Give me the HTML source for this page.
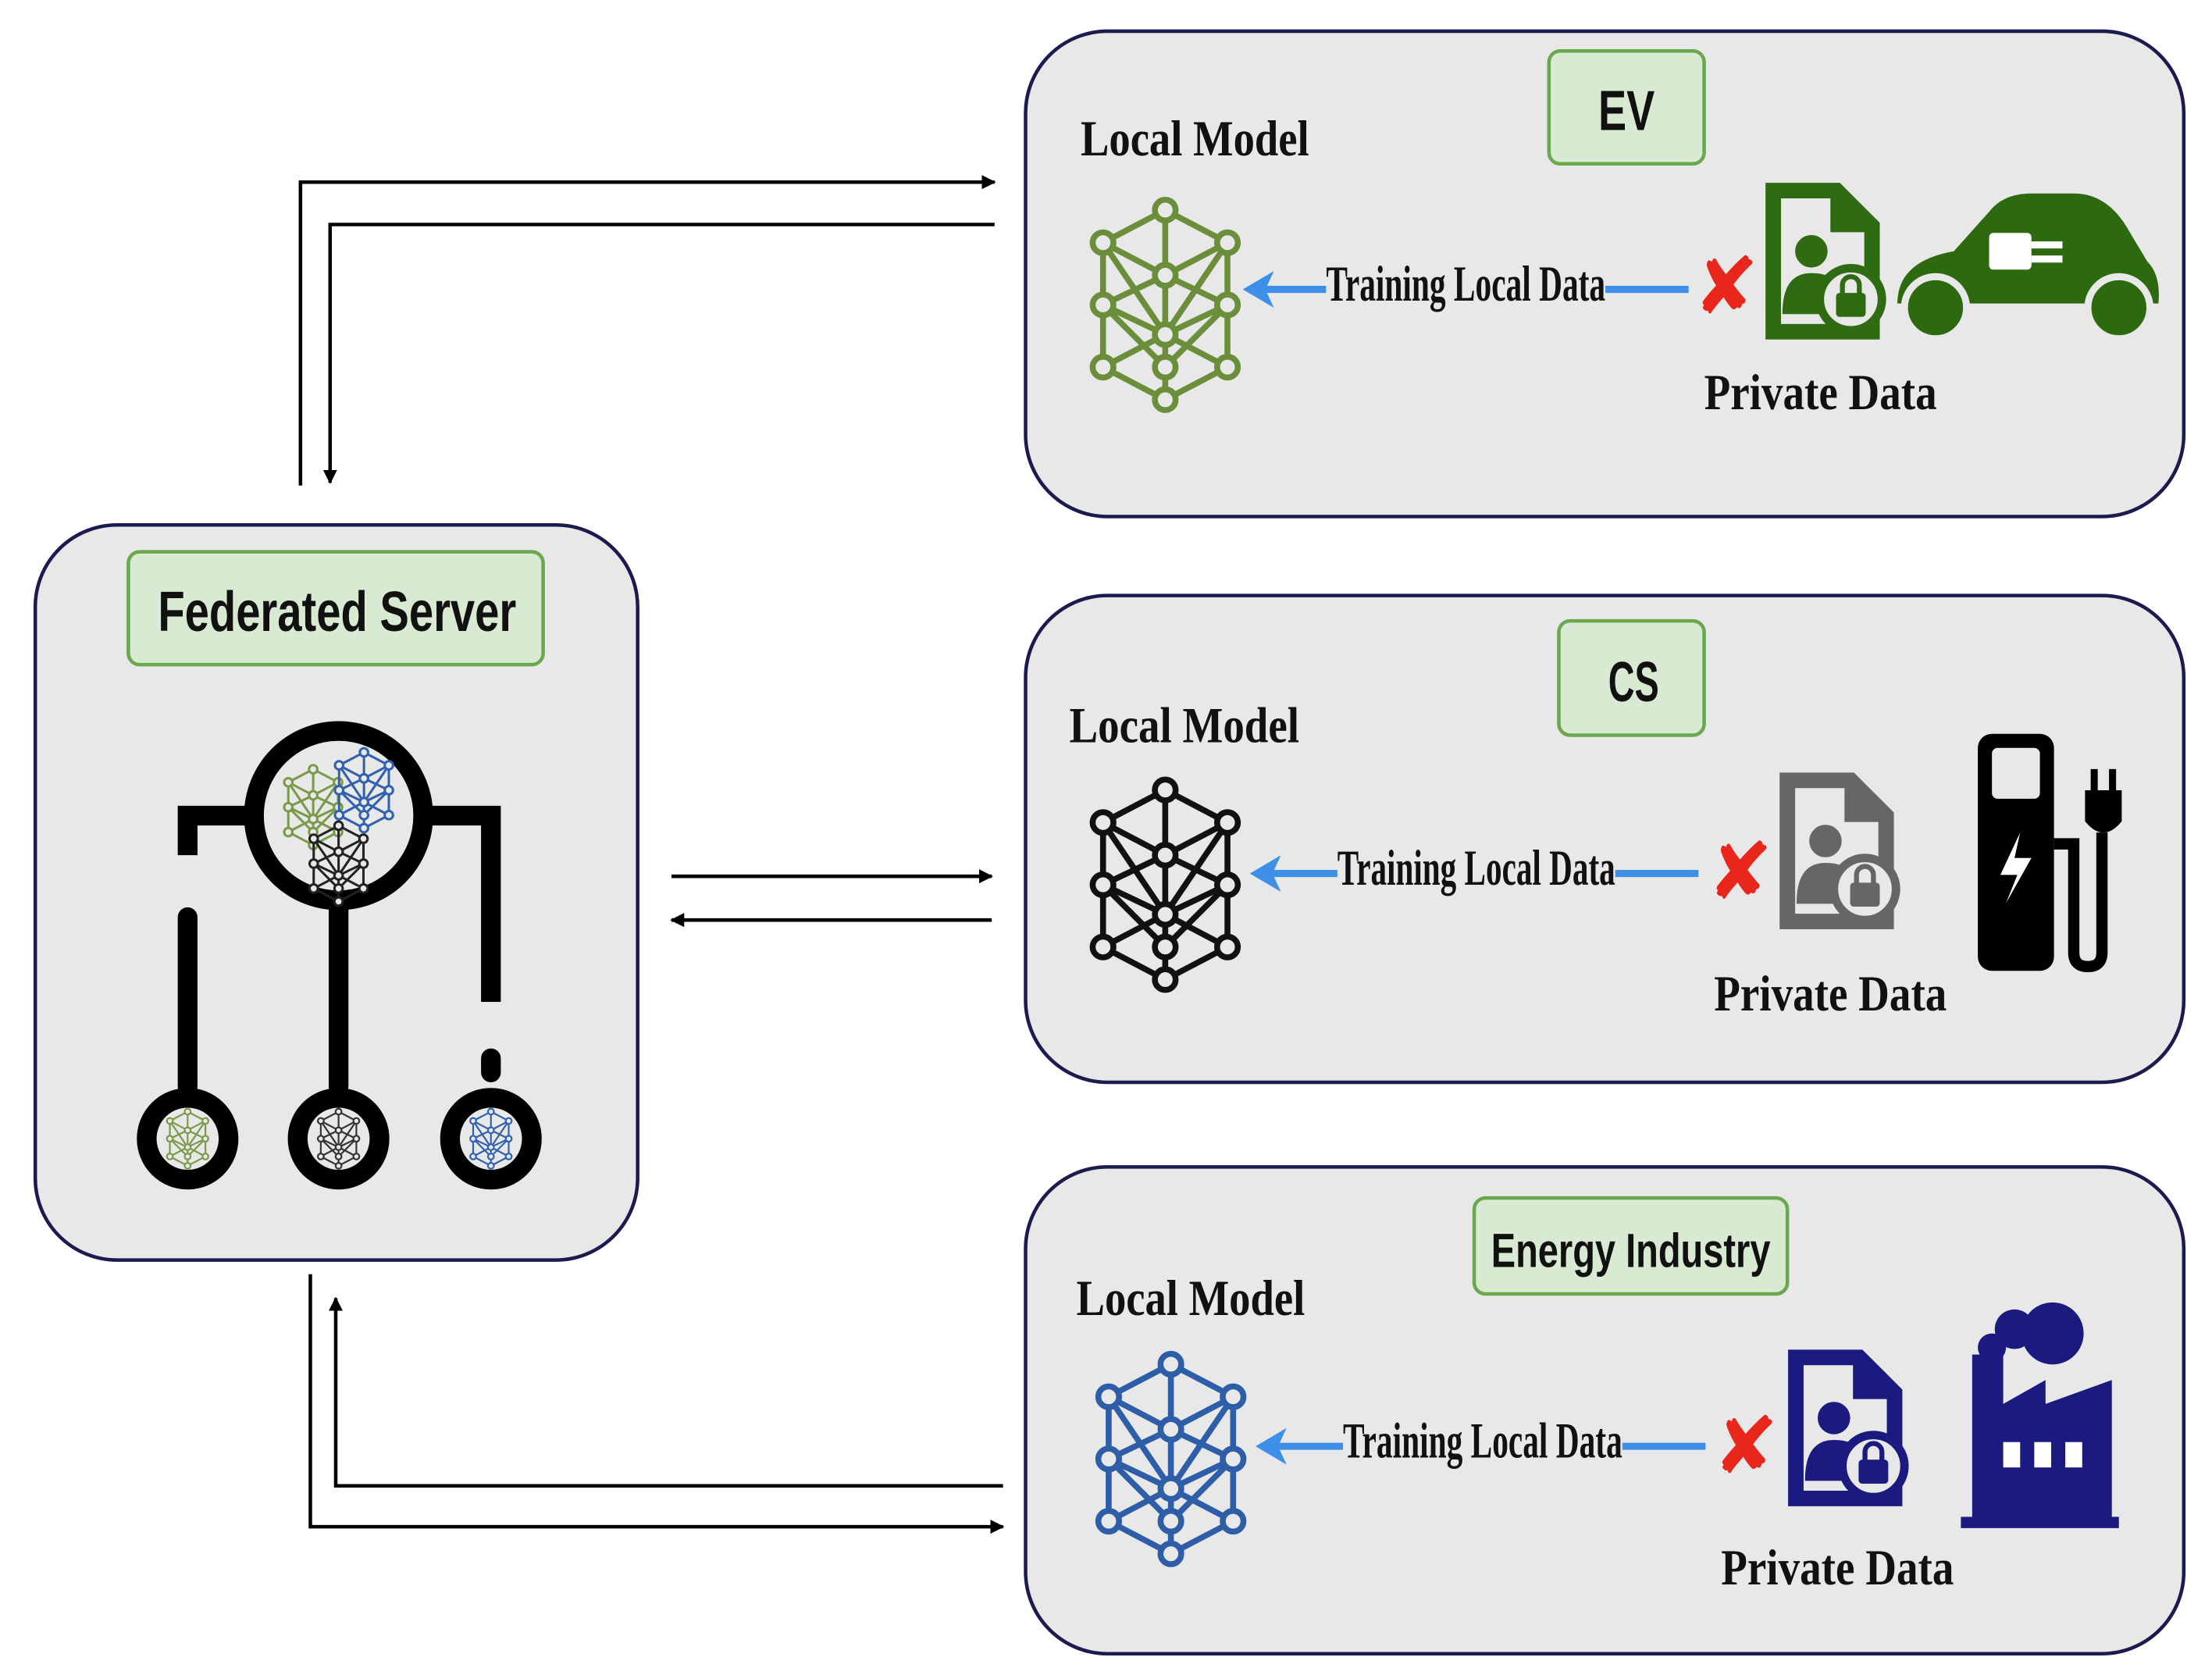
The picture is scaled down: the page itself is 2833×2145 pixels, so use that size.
<!DOCTYPE html>
<html><head><meta charset="utf-8"><style>
html,body{margin:0;padding:0;background:#fff}
svg{display:block}
.lbl{font-family:"Liberation Sans",sans-serif;font-weight:bold;fill:#111}
.ser{font-family:"Liberation Serif",serif;font-weight:bold;fill:#111}
</style></head><body>
<svg width="2833" height="2145" viewBox="0 0 1568 1187" xmlns="http://www.w3.org/2000/svg">
<defs>
<marker id="ah" markerWidth="10" markerHeight="10" refX="9" refY="5" orient="auto" markerUnits="userSpaceOnUse"><path d="M0,0 L10,5 L0,10 z" fill="#000"/></marker>
<marker id="bh" markerWidth="22" markerHeight="26" refX="18" refY="13" orient="auto" markerUnits="userSpaceOnUse"><path d="M0,0 L22,13 L0,26 L6,13 z" fill="#3d8fe8"/></marker>
<g id="net" fill="none" stroke-width="4">
<path d="M0,-64 L-42,-42 M0,-64 L42,-42 M0,-64 L0,-20 M-42,-42 L0,-20 L42,-42 M-42,-42 L-42,0 M42,-42 L42,0 M-42,-42 L0,20 M42,-42 L0,20 M0,-20 L-42,0 M0,-20 L42,0 M0,-20 L0,20 M-42,0 L0,20 L42,0 M-42,0 L-42,42 M42,0 L42,42 M-42,0 L0,42 M42,0 L0,42 M0,20 L-42,42 M0,20 L42,42 M0,20 L0,42 M-42,42 L0,64 L42,42 M0,42 L0,64"/>
<g fill="#e8e8e8">
<circle cx="0" cy="-64" r="7"/><circle cx="-42" cy="-42" r="7"/><circle cx="42" cy="-42" r="7"/><circle cx="0" cy="-20" r="7"/>
<circle cx="-42" cy="0" r="7"/><circle cx="42" cy="0" r="7"/><circle cx="0" cy="20" r="7"/><circle cx="0" cy="42" r="7"/>
<circle cx="-42" cy="42" r="7"/><circle cx="42" cy="42" r="7"/><circle cx="0" cy="64" r="7"/></g>
</g>
<g id="doc">
<path d="M0,0 H52 L80,28 V110 H0 Z M10,10 V100 H70 V34 H46 V10 Z" fill-rule="evenodd"/>
<circle cx="32" cy="48" r="11"/>
<path d="M12,92 Q12,64 32,64 Q46,64 50,72 L50,92 Z"/>
<circle cx="60" cy="82" r="24" fill="#e8e8e8"/>
<circle cx="60" cy="82" r="22" fill="none" stroke-width="6"/>
<rect x="50" y="78" width="20" height="16" rx="2"/>
<path d="M54,78 V72 A6,6 0 0 1 66,72 V78" fill="none" stroke-width="3.5"/>
</g>
</defs>

<rect x="25" y="372" width="427" height="521" rx="58" fill="#e8e8e8" stroke="#1b1b4f" stroke-width="2.5"/>
<rect x="727" y="22" width="821" height="344" rx="58" fill="#e8e8e8" stroke="#1b1b4f" stroke-width="2.5"/>
<rect x="727" y="422" width="821" height="345" rx="58" fill="#e8e8e8" stroke="#1b1b4f" stroke-width="2.5"/>
<rect x="727" y="827" width="821" height="345" rx="58" fill="#e8e8e8" stroke="#1b1b4f" stroke-width="2.5"/>

<rect x="91" y="391" width="294" height="80" rx="8" fill="#d9ead3" stroke="#6aa84f" stroke-width="2.5"/>
<text x="112" y="447" class="lbl" font-size="40" textLength="254" lengthAdjust="spacingAndGlyphs">Federated Server</text>
<rect x="1098" y="36" width="110" height="80" rx="8" fill="#d9ead3" stroke="#6aa84f" stroke-width="2.5"/>
<text x="1133" y="92" class="lbl" font-size="40" textLength="40" lengthAdjust="spacingAndGlyphs">EV</text>
<rect x="1105" y="440" width="103" height="81" rx="8" fill="#d9ead3" stroke="#6aa84f" stroke-width="2.5"/>
<text x="1140" y="497" class="lbl" font-size="40" textLength="36" lengthAdjust="spacingAndGlyphs">CS</text>
<rect x="1045" y="849" width="222" height="68" rx="8" fill="#d9ead3" stroke="#6aa84f" stroke-width="2.5"/>
<text x="1057" y="898" class="lbl" font-size="34" textLength="198" lengthAdjust="spacingAndGlyphs">Energy Industry</text>

<g stroke="#000" stroke-width="2.5" fill="none">
<path d="M213,344 V129 H705" marker-end="url(#ah)"/>
<path d="M705,159 H234 V342" marker-end="url(#ah)"/>
<path d="M476,621 H703" marker-end="url(#ah)"/>
<path d="M703,652 H476" marker-end="url(#ah)"/>
<path d="M220,903 V1082 H711" marker-end="url(#ah)"/>
<path d="M711,1053 H238 V920" marker-end="url(#ah)"/>
</g>

<g stroke="#000" stroke-width="14" fill="none" stroke-linecap="round">
<circle cx="240" cy="578" r="60"/>
<path d="M180,578 H133 V606" stroke-linecap="butt"/>
<path d="M300,578 H348 V710" stroke-linecap="butt"/>
<path d="M133,650 V770"/>
<path d="M240,640 V770"/>
<path d="M348,750 V760"/>
<circle cx="133" cy="807" r="29"/>
<circle cx="240" cy="807" r="29"/>
<circle cx="348" cy="807" r="29"/>
</g>
<use href="#net" transform="translate(222,572) scale(0.42)" stroke="#7a9a4a"/>
<use href="#net" transform="translate(258,560) scale(0.42)" stroke="#3060b0"/>
<use href="#net" transform="translate(240,612) scale(0.42)" stroke="#222"/>
<use href="#net" transform="translate(133,807) scale(0.3)" stroke="#7a9a4a"/>
<use href="#net" transform="translate(240,807) scale(0.3)" stroke="#333"/>
<use href="#net" transform="translate(348,807) scale(0.3)" stroke="#3060b0"/>

<text x="766" y="110" class="ser" font-size="36" textLength="162" lengthAdjust="spacingAndGlyphs">Local Model</text>
<use href="#net" transform="translate(826,216) scale(1.05)" stroke="#6b8e3a"/>
<path d="M1197,205 H1138" stroke="#3d8fe8" stroke-width="5"/>
<path d="M940,205 H885" stroke="#3d8fe8" stroke-width="5" marker-end="url(#bh)"/>
<text x="940" y="213" class="ser" font-size="36" textLength="198" lengthAdjust="spacingAndGlyphs">Training Local Data</text>
<text x="1200" y="222" font-family="DejaVu Sans,sans-serif" font-size="56" font-weight="bold" fill="#e8261c">✘</text>
<use href="#doc" transform="translate(1252,130)" fill="#2e6b12" stroke="#2e6b12"/>
<text x="1208" y="290" class="ser" font-size="36" textLength="165" lengthAdjust="spacingAndGlyphs">Private Data</text>
<g fill="#2d6a0f">
<path d="M1345,215 Q1345,185 1385,178 L1410,150 Q1420,137 1440,137 L1470,137 Q1495,137 1510,165 L1522,185 Q1532,195 1530,215 Z"/>
<circle cx="1372" cy="218" r="22" stroke="#e8e8e8" stroke-width="5"/>
<circle cx="1502" cy="218" r="22" stroke="#e8e8e8" stroke-width="5"/>
</g>
<g fill="#fff"><rect x="1410" y="165" width="30" height="26" rx="3"/><rect x="1440" y="171" width="22" height="5"/><rect x="1440" y="181" width="22" height="5"/></g>

<text x="758" y="526" class="ser" font-size="36" textLength="163" lengthAdjust="spacingAndGlyphs">Local Model</text>
<use href="#net" transform="translate(826,627) scale(1.05)" stroke="#111"/>
<path d="M1204,619 H1145" stroke="#3d8fe8" stroke-width="5"/>
<path d="M948,619 H890" stroke="#3d8fe8" stroke-width="5" marker-end="url(#bh)"/>
<text x="948" y="627" class="ser" font-size="36" textLength="197" lengthAdjust="spacingAndGlyphs">Training Local Data</text>
<text x="1210" y="637" font-family="DejaVu Sans,sans-serif" font-size="56" font-weight="bold" fill="#e8261c">✘</text>
<use href="#doc" transform="translate(1262,548)" fill="#666" stroke="#666"/>
<text x="1215" y="716" class="ser" font-size="36" textLength="165" lengthAdjust="spacingAndGlyphs">Private Data</text>
<g>
<rect x="1402" y="520" width="54" height="168" rx="10" fill="#000"/>
<rect x="1412" y="530" width="34" height="36" rx="4" fill="#e8e8e8"/>
<path d="M1432,590 L1418,620 H1430 L1422,640 L1440,608 H1428 Z" fill="#fff"/>
<path d="M1456,598 H1470 V675 Q1470,685 1480,685 Q1490,685 1490,675 V590" fill="none" stroke="#000" stroke-width="8"/>
<path d="M1478,560 H1504 V582 Q1491,598 1478,582 Z" fill="#000"/>
<rect x="1482" y="545" width="5" height="18" fill="#000"/><rect x="1495" y="545" width="5" height="18" fill="#000"/>
</g>

<text x="763" y="932" class="ser" font-size="36" textLength="162" lengthAdjust="spacingAndGlyphs">Local Model</text>
<use href="#net" transform="translate(830,1034) scale(1.05)" stroke="#2e5ea8"/>
<path d="M1209,1025 H1150" stroke="#3d8fe8" stroke-width="5"/>
<path d="M952,1025 H894" stroke="#3d8fe8" stroke-width="5" marker-end="url(#bh)"/>
<text x="952" y="1033" class="ser" font-size="36" textLength="198" lengthAdjust="spacingAndGlyphs">Training Local Data</text>
<text x="1214" y="1044" font-family="DejaVu Sans,sans-serif" font-size="56" font-weight="bold" fill="#e8261c">✘</text>
<use href="#doc" transform="translate(1268,957)" fill="#1a1a80" stroke="#1a1a80"/>
<text x="1220" y="1123" class="ser" font-size="36" textLength="165" lengthAdjust="spacingAndGlyphs">Private Data</text>
<g fill="#1a1a80">
<circle cx="1455" cy="945" r="22"/><circle cx="1428" cy="942" r="14"/><circle cx="1412" cy="955" r="10"/>
<path d="M1398,960 H1420 V995 L1450,978 V995 L1497,978 V1075 H1398 Z"/>
<rect x="1390" y="1075" width="112" height="8"/>
</g>
<g fill="#fff"><rect x="1420" y="1022" width="12" height="18"/><rect x="1442" y="1022" width="12" height="18"/><rect x="1464" y="1022" width="12" height="18"/></g>
</svg>
</body></html>
